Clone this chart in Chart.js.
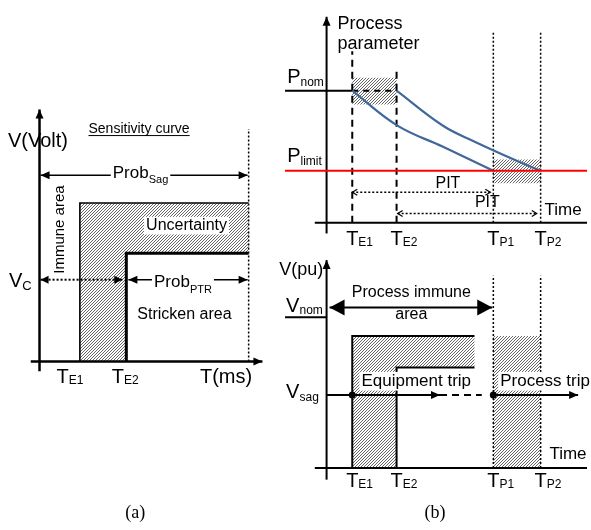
<!DOCTYPE html>
<html>
<head>
<meta charset="utf-8">
<script src="https://cdn.jsdelivr.net/npm/chart.js@4"></script>
<style>
  html, body { margin: 0; padding: 0; background: #fff; }
  #wrap { position: relative; width: 591px; height: 530px; }
</style>
</head>
<body>
<div id="wrap"><canvas id="diagram" width="591" height="530"></canvas></div>
<script>
// ---- panel (a): equipment sensitivity curve
const aTimes = [19.3, 41.5, 100];      // T_E1, T_E2, end of curve
const aVolts = [100, 68.3, 51.6];      // upper edge, lower edge, V_C
const aProbSagLevel = 117.4;

// ---- panel (b), top: process parameter
const bTimes = [12, 32.7, 77.9, 100];  // T_E1, T_E2, T_P1, T_P2
const bTickLabels = ['E1', 'E2', 'P1', 'P2'];
const pNom = 100;
const pLimit = 39.3;
const lowerCurveT = [12, 32.9, 54.4, 77.9];
const lowerCurveP = [100, 73.7, 57.5, 39.3];
const upperCurveT = [32.7, 54.4, 69.7, 89.7, 100];
const upperCurveP = [100, 73.4, 61, 46.3, 39.3];
const pitLevels = [23.1, 6.9];

// ---- panel (b), bottom: voltage
const vNom = 100;
const vSag = 48.4;
const vBand = [87.6, 66.7];
const vBandEnd = 69.1;
const immuneLevel = 106.5;

const W = 591, H = 530;
const SANS = '"Liberation Sans", Arial, sans-serif';
const SERIF = '"Liberation Serif", "Times New Roman", serif';

// scale bounds so that value v0 lands on pixel p0 and v1 on p1
function xRange(v0, p0, v1, p1) {
  const s = (p1 - p0) / (v1 - v0);
  const min = v0 - p0 / s;
  return { min, max: min + W / s };
}
function yRange(v0, p0, v1, p1) {
  const s = (p0 - p1) / (v1 - v0);
  const max = v0 + p0 / s;
  return { min: max - H / s, max };
}
const axis = (a, r) => Object.assign({ type: 'linear', axis: a, display: false, bounds: 'data' }, r);

function makeHatch() {
  const c = document.createElement('canvas');
  c.width = c.height = 3;
  const g = c.getContext('2d');
  g.strokeStyle = '#3c3c3c';
  g.lineWidth = 0.8;
  g.beginPath();
  g.moveTo(0, 3); g.lineTo(3, 0);
  g.moveTo(-1, 1); g.lineTo(1, -1);
  g.moveTo(2, 4); g.lineTo(4, 2);
  g.stroke();
  return g.createPattern(c, 'repeat');
}
const HATCH = makeHatch();

function seg(xs, ys, pts, o) {
  return Object.assign({
    xAxisID: xs, yAxisID: ys,
    data: pts.map(p => ({ x: p[0], y: p[1] })),
    borderColor: '#000', borderWidth: 2, fill: false,
    pointRadius: 0, order: 2
  }, o);
}
const hatchFill = (xs, ys, pts) => seg(xs, ys, pts, {
  fill: 'shape', backgroundColor: HATCH, borderColor: 'rgba(0,0,0,0)', order: 9
});
const DOT = [2, 2];
const DASH = [7, 5];

// ---- datasets
const [aE1, aE2, aEnd] = aTimes;
const [aTop, aLow, aVc] = aVolts;
const [tE1, tE2, tP1, tP2] = bTimes;

const datasets = [
  // (a)
  hatchFill('xa', 'ya', [[aE1, 0], [aE1, aTop], [aEnd, aTop], [aEnd, aLow], [aE2, aLow], [aE2, 0]]),
  seg('xa', 'ya', [[aE1, 0], [aE1, aTop], [aEnd, aTop]], { borderWidth: 1.6 }),
  seg('xa', 'ya', [[aEnd, aLow], [aE2, aLow], [aE2, 0]], { borderWidth: 3 }),
  seg('xa', 'ya', [[aEnd, 0], [aEnd, 146.6]], { borderWidth: 1.5, borderDash: DOT }),
  seg('xa', 'ya', [[0, -6.2], [0, 159]], { borderWidth: 2.5, arrow: 'end', head: [9, 4] }),
  seg('xa', 'ya', [[-4.2, 0], [106.6, 0]], { borderWidth: 2.5, arrow: 'end', head: [9, 4] }),
  seg('xa', 'ya', [[0.5, aProbSagLevel], [99.5, aProbSagLevel]], { borderWidth: 1.5, arrow: 'both', head: [9, 4] }),
  seg('xa', 'ya', [[0.5, aVc], [39.6, aVc]], { borderWidth: 2, borderDash: DOT, arrow: 'both', head: [8, 4] }),
  seg('xa', 'ya', [[42.5, aVc], [99.5, aVc]], { borderWidth: 1.5, arrow: 'both', head: [9, 4] }),

  // (b) top
  hatchFill('xb', 'ybt', [[tE1, 89.6], [tE1, 109.7], [tE2, 109.7], [tE2, 89.6]]),
  hatchFill('xb', 'ybt', [[tP1, 29.9], [tP1, 47.8], [tP2, 47.8], [tP2, 29.9]]),
  seg('xb', 'ybt', [[0, -8.2], [0, 156]], { arrow: 'end', head: [9, 4] }),
  seg('xb', 'ybt', [[-5.5, 0], [121.7, 0]]),
  seg('xb', 'ybt', [[-19.4, pNom], [tE1, pNom]]),
  seg('xb', 'ybt', [[tE1, pNom], [tE2, pNom]], { borderDash: [6, 5] }),
  seg('xb', 'ybt', [[tE1, 0], [tE1, 129.9]], { borderDash: DASH }),
  seg('xb', 'ybt', [[tE2, 0], [tE2, 115.7]], { borderDash: DASH }),
  seg('xb', 'ybt', [[tP1, 0], [tP1, 144.8]], { borderWidth: 1.5, borderDash: DOT }),
  seg('xb', 'ybt', [[tP2, 0], [tP2, 144.8]], { borderWidth: 1.5, borderDash: DOT }),
  seg('xb', 'ybt', lowerCurveT.map((t, i) => [t, lowerCurveP[i]]),
    { borderColor: '#41689a', borderWidth: 2.2, tension: 0.4, order: 1 }),
  seg('xb', 'ybt', upperCurveT.map((t, i) => [t, upperCurveP[i]]),
    { borderColor: '#41689a', borderWidth: 2.2, tension: 0.4, order: 1 }),
  seg('xb', 'ybt', [[-19.4, pLimit], [121.7, pLimit]], { borderColor: '#ff0000', order: 0 }),
  seg('xb', 'ybt', [[tE1, pitLevels[0]], [76.5, pitLevels[0]]], { borderWidth: 1.5, borderDash: DOT, arrow: 'both', head: [5, 3, true] }),
  seg('xb', 'ybt', [[33.2, pitLevels[1]], [98.2, pitLevels[1]]], { borderWidth: 1.5, borderDash: DOT, arrow: 'both', head: [5, 3, true] }),

  // (b) bottom
  hatchFill('xb', 'ybb', [[tE1, 0], [tE1, vBand[0]], [vBandEnd, vBand[0]], [vBandEnd, vBand[1]], [tE2, vBand[1]], [tE2, 0]]),
  hatchFill('xb', 'ybb', [[tP1, 0], [tP1, vBand[0]], [tP2, vBand[0]], [tP2, 0]]),
  seg('xb', 'ybb', [[tE1, 0], [tE1, vBand[0]], [vBandEnd, vBand[0]]]),
  seg('xb', 'ybb', [[vBandEnd, vBand[1]], [tE2, vBand[1]], [tE2, 0]]),
  seg('xb', 'ybb', [[tP1, 0], [tP1, 127.5]], { borderWidth: 1.5, borderDash: DOT }),
  seg('xb', 'ybb', [[tP2, 0], [tP2, 127.5]], { borderWidth: 1.5, borderDash: DOT }),
  seg('xb', 'ybb', [[0, -7.8], [0, 137.9]], { arrow: 'end', head: [9, 4] }),
  seg('xb', 'ybb', [[-5.5, 0], [121.7, 0]]),
  seg('xb', 'ybb', [[-19.4, vNom], [0, vNom]]),
  seg('xb', 'ybb', [[1.4, immuneLevel], [77.4, immuneLevel]], { arrow: 'both', head: [15, 8] }),
  seg('xb', 'ybb', [[0, vSag], [53, vSag]], { arrow: 'end', head: [9, 4] }),
  seg('xb', 'ybb', [[53, vSag], [72.5, vSag]], { borderDash: DASH }),
  seg('xb', 'ybb', [[tP1, vSag], [117.5, vSag]], { arrow: 'end', head: [9, 4] }),
  seg('xb', 'ybb', [[tE1, vSag], [tP1, vSag]], {
    showLine: false, pointRadius: 3.5, pointBackgroundColor: '#000', pointBorderWidth: 0, order: 0
  })
];

// ---- text
const A = o => Object.assign({ xs: 'xa', ys: 'ya' }, o);
const BT = o => Object.assign({ xs: 'xb', ys: 'ybt' }, o);
const BB = o => Object.assign({ xs: 'xb', ys: 'ybb' }, o);
const labels = [
  A({ x: -15.1, y: 135.4, text: 'V(Volt)', size: 20, align: 'left', base: 'alphabetic' }),
  A({ x: 47.6, y: 146.6, text: 'Sensitivity curve', size: 14, underline: true }),
  A({ x: 48.3, y: 115.5, text: 'Prob', sub: 'Sag', size: 17, subSize: 11, subDy: 5, base: 'alphabetic', bg: true }),
  A({ x: 9.9, y: 83.2, text: 'Immune area', size: 15, rot: -Math.PI / 2 }),
  A({ x: 70.3, y: 85.7, text: 'Uncertainty', size: 16, bg: true }),
  A({ x: -14.6, y: 47.2, text: 'V', sub: 'C', size: 20, subSize: 13, subDy: 3, align: 'left', base: 'alphabetic' }),
  A({ x: 68.6, y: 47.2, text: 'Prob', sub: 'PTR', size: 17, subSize: 11, subDy: 6, base: 'alphabetic', bg: true }),
  A({ x: 69.3, y: 29.8, text: 'Stricken area', size: 16 }),
  A({ x: 14.6, y: -13.7, text: 'T', sub: 'E1', size: 20, subSize: 12, subDy: 1, base: 'alphabetic' }),
  A({ x: 41, y: -13.7, text: 'T', sub: 'E2', size: 20, subSize: 12, subDy: 1, base: 'alphabetic' }),
  A({ x: 89.2, y: -13.7, text: 'T(ms)', size: 20, base: 'alphabetic' }),
  A({ x: 45.8, y: -95.7, text: '(a)', size: 18, serif: true }),

  BT({ x: 5.1, y: 147, text: 'Process', size: 18, align: 'left', base: 'alphabetic' }),
  BT({ x: 5.1, y: 131.3, text: 'parameter', size: 18, align: 'left', base: 'alphabetic' }),
  BT({ x: -18.4, y: 106, text: 'P', sub: 'nom', size: 20, subSize: 12, subDy: 3, align: 'left', base: 'alphabetic' }),
  BT({ x: -18.4, y: 46.3, text: 'P', sub: 'limit', size: 20, subSize: 12, subDy: 3, align: 'left', base: 'alphabetic' }),
  BT({ x: 56.7, y: 29.9, text: 'PIT', size: 16 }),
  BT({ x: 75.1, y: 14.9, text: 'PIT', size: 16 }),
  BT({ x: 101.8, y: 9, text: 'Time', size: 17, align: 'left' }),

  BB({ x: -22.1, y: 128.1, text: 'V(pu)', size: 18, align: 'left', base: 'alphabetic' }),
  BB({ x: -18.9, y: 103.3, text: 'V', sub: 'nom', size: 20, subSize: 12, subDy: 2, align: 'left', base: 'alphabetic' }),
  BB({ x: 39.6, y: 116.3, text: 'Process immune', size: 16 }),
  BB({ x: 39.6, y: 102, text: 'area', size: 16 }),
  BB({ x: -18.9, y: 46.4, text: 'V', sub: 'sag', size: 20, subSize: 12, subDy: 3, align: 'left', base: 'alphabetic' }),
  BB({ x: 41.9, y: 57.5, text: 'Equipment trip', size: 17, bg: true }),
  BB({ x: 81.1, y: 57.5, text: 'Process trip', size: 17, align: 'left', bg: true }),
  BB({ x: 104.1, y: 9.2, text: 'Time', size: 17, align: 'left' }),
  BB({ x: 50.7, y: -30.1, text: '(b)', size: 18, serif: true })
];
bTimes.forEach((t, i) => {
  const tick = { x: t, text: 'T', sub: bTickLabels[i], size: 20, subSize: 12, subDy: 1, align: 'main', base: 'alphabetic' };
  labels.push(BT(Object.assign({ y: -17.2 }, tick)));
  labels.push(BB(Object.assign({ y: -12.4 }, tick)));
});

function arrowHead(ctx, tip, from, head, color) {
  const [len, hw, open] = head;
  const ang = Math.atan2(tip.y - from.y, tip.x - from.x);
  ctx.save();
  ctx.translate(tip.x, tip.y);
  ctx.rotate(ang);
  ctx.setLineDash([]);
  ctx.beginPath();
  ctx.moveTo(-len, -hw);
  ctx.lineTo(0, 0);
  ctx.lineTo(-len, hw);
  if (open) {
    ctx.strokeStyle = color;
    ctx.lineWidth = 1.2;
    ctx.stroke();
  } else {
    ctx.closePath();
    ctx.fillStyle = color;
    ctx.fill();
  }
  ctx.restore();
}

function drawLabel(ctx, chart, l) {
  const px = chart.scales[l.xs].getPixelForValue(l.x);
  const py = chart.scales[l.ys].getPixelForValue(l.y);
  const fam = l.serif ? SERIF : SANS;
  const mainFont = l.size + 'px ' + fam;
  const subFont = (l.subSize || 12) + 'px ' + fam;
  ctx.save();
  ctx.translate(px, py);
  if (l.rot) ctx.rotate(l.rot);
  ctx.font = mainFont;
  const mw = ctx.measureText(l.text).width;
  let sw = 0;
  if (l.sub) { ctx.font = subFont; sw = ctx.measureText(l.sub).width; }
  const total = mw + sw;
  const x0 = l.align === 'left' ? 0 : l.align === 'main' ? -mw / 2 : -total / 2;
  const base = l.base || 'middle';
  if (l.bg) {
    let top, bottom;
    if (base === 'middle') { top = -l.size * 0.55; bottom = l.size * 0.55; }
    else { top = -l.size * 0.78; bottom = l.sub ? l.subDy + l.subSize * 0.3 : l.size * 0.22; }
    ctx.fillStyle = '#fff';
    ctx.fillRect(x0 - 2, top, total + 4, bottom - top);
  }
  ctx.fillStyle = '#000';
  ctx.textAlign = 'left';
  ctx.textBaseline = base;
  ctx.font = mainFont;
  ctx.fillText(l.text, x0, 0);
  if (l.sub) {
    ctx.font = subFont;
    ctx.fillText(l.sub, x0 + mw, l.subDy || 0);
  }
  if (l.underline) ctx.fillRect(x0, Math.round(l.size * 0.4), total, 1);
  ctx.restore();
}

const decorPlugin = {
  id: 'decor',
  afterDatasetsDraw(chart) {
    const ctx = chart.ctx;
    chart.data.datasets.forEach((ds, i) => {
      if (!ds.arrow) return;
      const pts = chart.getDatasetMeta(i).data;
      const a = pts[0], b = pts[pts.length - 1];
      arrowHead(ctx, b, a, ds.head, ds.borderColor);
      if (ds.arrow === 'both') arrowHead(ctx, a, b, ds.head, ds.borderColor);
    });
    labels.forEach(l => drawLabel(ctx, chart, l));
  }
};

new Chart(document.getElementById('diagram'), {
  type: 'line',
  data: { datasets },
  options: {
    responsive: false,
    animation: false,
    events: [],
    layout: { padding: 0 },
    elements: { point: { radius: 0 } },
    scales: {
      xa: axis('x', xRange(0, 36, 100, 248)),
      ya: axis('y', yRange(0, 363, 100, 202)),
      xb: axis('x', xRange(0, 327, 100, 544)),
      ybt: axis('y', yRange(0, 222, 100, 88)),
      ybb: axis('y', yRange(0, 471, 100, 318))
    },
    plugins: { legend: { display: false }, tooltip: { enabled: false } }
  },
  plugins: [decorPlugin]
});
</script>
</body>
</html>
